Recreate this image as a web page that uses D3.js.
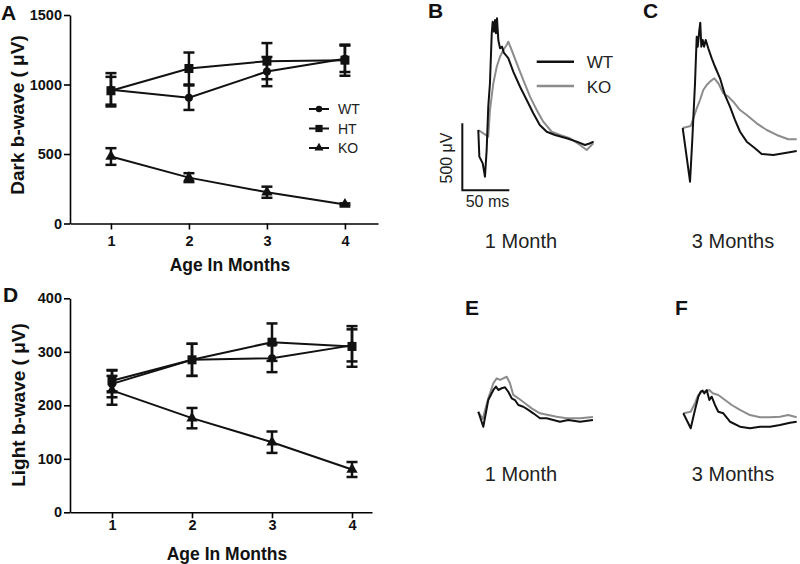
<!DOCTYPE html>
<html><head><meta charset="utf-8">
<script src="https://cdn.jsdelivr.net/npm/d3@7"></script>
<style>
body{margin:0;background:#fff;}
svg{display:block;font-family:"Liberation Sans",Arial,Helvetica,sans-serif;}
</style></head>
<body><svg id="chart" width="800" height="564"></svg>
<script>
// ---------- data ----------
const months = [1, 2, 3, 4];
const darkTicks = [0, 500, 1000, 1500];
const lightTicks = [0, 100, 200, 300, 400];
const seriesNames = ["WT", "HT", "KO"];

const darkWT = [962, 905, 1093, 1185];
const darkWTerr = [120, 88, 105, 95];
const darkHT = [955, 1115, 1168, 1175];
const darkHTerr = [100, 115, 130, 112];
const darkKO = [482, 330, 225, 137];
const darkKOerr = [60, 32, 40, 8];

const lightWT = [240, 285, 288, 312];
const lightWTerr = [25, 30, 26, 30];
const lightHT = [246, 285, 318, 310];
const lightHTerr = [20, 30, 35, 38];
const lightKO = [228, 176, 131, 80];
const lightKOerr = [27, 19, 20, 14];

// ERG traces: [time ms, amplitude µV]
const darkWT1m = [[0,0],[1.1,-199],[4.7,-249],[7.1,-348],[8.9,-149],[10.6,173],[12.4,349],[14.3,722],[15.3,808],[16.7,734],[17.8,821],[18.8,722],[19.9,834],[21.3,672],[23.1,610],[25.2,622],[27.3,575],[31.9,537],[37.2,435],[44.4,323],[51.5,224],[58.5,125],[65.4,37],[72.8,-13],[81.6,-37],[94.0,-62],[104.7,-87],[113.5,-112],[119.0,-99],[122.7,-87]];
const darkKO1m = [[0,0],[10.6,-50],[12.4,149],[16.0,349],[19.6,472],[23.1,547],[26.6,597],[30.2,634],[31.9,659],[35.5,597],[40.9,498],[47.9,373],[55.0,249],[62.1,149],[69.1,62],[78.1,-13],[86.9,-37],[97.5,-62],[108.2,-112],[115.3,-149],[122.3,-99]];
const darkWT3m = [[0,0],[7.8,-401],[10.2,-90],[13.1,334],[14.9,681],[16.0,607],[17.7,731],[18.7,786],[19.8,607],[21.3,657],[22.7,607],[24.5,657],[27.2,595],[30.9,520],[34.4,457],[39.7,371],[45.0,246],[50.3,159],[55.6,60],[61.0,-28],[68.1,-102],[76.9,-151],[84.0,-194],[96.4,-201],[110.6,-184],[121.3,-172]];
const darkKO3m = [[0,0],[8.5,15],[11.3,72],[14.9,147],[18.4,209],[21.9,284],[25.5,321],[29.0,346],[33.6,371],[37.9,334],[43.2,259],[48.5,234],[53.8,196],[61.0,134],[68.1,97],[78.7,35],[89.4,-15],[100.0,-52],[112.3,-84],[121.3,-84]];
const lightWT1m = [[0,0],[5.3,-112],[10.6,87],[16.0,162],[18.8,187],[21.3,162],[24.9,175],[28.4,182],[31.9,149],[35.5,100],[39.0,87],[42.6,50],[47.9,37],[53.2,13],[58.5,-12],[65.6,-49],[72.8,-49],[79.8,-62],[86.9,-75],[95.7,-62],[108.2,-75],[122,-62]];
const lightKO1m = [[0,0],[4.7,-54],[10.6,100],[16.0,212],[19.6,249],[23.1,237],[26.6,249],[30.2,261],[33.7,212],[37.2,125],[42.6,100],[49.7,63],[56.8,25],[65.6,-12],[74.5,-25],[83.4,-37],[94.0,-49],[108.2,-49],[122,-40]];
const lightWT3m = [[0,0],[7.9,-112],[12.4,25],[16.0,124],[18.5,161],[20.6,169],[22.3,149],[24.9,174],[27.7,99],[30.2,124],[33.7,62],[37.2,12],[42.6,0],[49.7,-63],[60.3,-100],[71.0,-112],[81.6,-100],[92.2,-100],[102.9,-87],[113.5,-70],[120.6,-63]];
const lightKO3m = [[0,0],[7.9,12],[12.4,75],[16.0,137],[19.6,161],[23.1,161],[27.7,174],[31.3,149],[37.2,137],[44.4,99],[51.5,62],[60.3,25],[71.0,-13],[81.6,-30],[92.2,-30],[102.9,-25],[111.7,-13],[120.6,-30]];

const scaleBarMs = [-17, 33];
const scaleBarUV = [-450, 50];

// ---------- drawing ----------
const svg = d3.select("#chart");
const FONT = "'Liberation Sans',Arial,Helvetica,sans-serif";

function lineChart(opts) {
  const g = svg.append("g");
  const x = d3.scaleLinear().domain(opts.xDomain).range(opts.xRange);
  const y = d3.scaleLinear().domain(opts.yDomain).range(opts.yRange);

  const xAxis = g.append("g").attr("transform", `translate(0,${opts.yRange[0]})`)
    .call(d3.axisBottom(x).tickValues(months).tickFormat(d3.format("d"))
      .tickSize(6).tickSizeOuter(0).tickPadding(opts.xPad));
  const yAxis = g.append("g").attr("transform", `translate(${opts.xRange[0]},0)`)
    .call(d3.axisLeft(y).tickValues(opts.yTicks).tickFormat(d3.format("d"))
      .tickSize(6).tickSizeOuter(0).tickPadding(2));
  [xAxis, yAxis].forEach(a => {
    a.select(".domain").attr("stroke", "#000").attr("stroke-width", 1.6);
    a.selectAll(".tick line").attr("stroke", "#000").attr("stroke-width", 1.6);
    a.selectAll(".tick text").attr("fill", "#111").attr("font-size", 14.5)
      .attr("font-weight", "bold").attr("font-family", FONT);
  });

  const sets = opts.series;
  const line = d3.line().x((d, i) => x(months[i])).y(d => y(d));
  sets.forEach(s => {
    g.append("path").datum(s.values).attr("d", line)
      .attr("fill", "none").attr("stroke", "#111").attr("stroke-width", 2);
  });
  sets.forEach(s => {
    s.values.forEach((v, i) => {
      const cx = x(months[i]);
      const e = s.err[i];
      const y1 = y(v + e), y2 = y(v - e);
      g.append("line").attr("x1", cx).attr("x2", cx).attr("y1", y1).attr("y2", y2)
        .attr("stroke", "#111").attr("stroke-width", 2.5);
      [y1, y2].forEach(yy => g.append("line").attr("x1", cx - 5.5).attr("x2", cx + 5.5)
        .attr("y1", yy).attr("y2", yy).attr("stroke", "#111").attr("stroke-width", 2.5));
      drawMarker(g, s.shape, cx, y(v), 1);
    });
  });

  g.append("text").attr("x", (x(1) + x(4)) / 2 + opts.titleDx).attr("y", opts.xTitleY)
    .attr("text-anchor", "middle").attr("font-size", 17.5).attr("font-weight", "bold")
    .attr("fill", "#111").text("Age In Months");
  g.append("text").attr("transform", `translate(${opts.yTitleX},${opts.yTitleY}) rotate(-90)`)
    .attr("text-anchor", "middle").attr("font-size", 19).attr("font-weight", "bold")
    .attr("fill", "#111").text(opts.yTitle);
  return {x, y, g};
}

function drawMarker(g, shape, cx, cy, k) {
  if (shape === "circle") {
    g.append("circle").attr("cx", cx).attr("cy", cy).attr("r", 4 * k).attr("fill", "#111");
  } else if (shape === "square") {
    g.append("rect").attr("x", cx - 4.5 * k).attr("y", cy - 4.5 * k)
      .attr("width", 9 * k).attr("height", 9 * k).attr("fill", "#111");
  } else {
    g.append("path").attr("d", d3.symbol(d3.symbolTriangle, 55 * k * k)())
      .attr("transform", `translate(${cx},${cy})`).attr("fill", "#111");
  }
}

// Panel A
lineChart({
  xDomain: [0.475, 4.424], xRange: [70, 378],
  yDomain: [0, 1500], yRange: [223.5, 15], yTicks: darkTicks, xPad: 6,
  series: [
    {values: darkWT, err: darkWTerr, shape: "circle"},
    {values: darkHT, err: darkHTerr, shape: "square"},
    {values: darkKO, err: darkKOerr, shape: "triangle"}
  ],
  xTitleY: 271, titleDx: 2, yTitleX: 24, yTitleY: 115, yTitle: "Dark b-wave ( \u03bcV)"
});

// Panel D
lineChart({
  xDomain: [0.475, 4.25], xRange: [70, 372],
  yDomain: [0, 400], yRange: [512.3, 298.3], yTicks: lightTicks, xPad: 1,
  series: [
    {values: lightWT, err: lightWTerr, shape: "circle"},
    {values: lightHT, err: lightHTerr, shape: "square"},
    {values: lightKO, err: lightKOerr, shape: "triangle"}
  ],
  xTitleY: 560, titleDx: -5, yTitleX: 25, yTitleY: 405, yTitle: "Light b-wave ( \u03bcV)"
});

// Legend A
const shapes = ["circle", "square", "triangle"];
const lg = svg.append("g");
seriesNames.forEach((n, i) => {
  const yy = 109 + i * 19.5;
  lg.append("line").attr("x1", 309).attr("x2", 329).attr("y1", yy).attr("y2", yy)
    .attr("stroke", "#111").attr("stroke-width", 2);
  drawMarker(lg, shapes[i], 319, yy, 0.8);
  lg.append("text").attr("x", 338).attr("y", yy + 5).attr("font-size", 14)
    .attr("fill", "#222").text(n);
});

// ERG traces
function tracePanel(x0, base, wt, ko) {
  const x = d3.scaleLinear().domain([0, 50]).range([x0, x0 + 47]);
  const y = d3.scaleLinear().domain([0, 500]).range([base, base - 67]);
  const line = d3.line().x(d => x(d[0])).y(d => y(d[1]));
  svg.append("path").datum(ko).attr("d", line).attr("fill", "none")
    .attr("stroke", "#8c8c8c").attr("stroke-width", 2).attr("stroke-linejoin", "round");
  svg.append("path").datum(wt).attr("d", line).attr("fill", "none")
    .attr("stroke", "#111").attr("stroke-width", 2).attr("stroke-linejoin", "round");
  return {x, y};
}
const B = tracePanel(478.3, 130, darkWT1m, darkKO1m);
tracePanel(682.7, 128, darkWT3m, darkKO3m);
tracePanel(478.3, 411.7, lightWT1m, lightKO1m);
tracePanel(683.3, 413.3, lightWT3m, lightKO3m);

// scale bar
svg.append("path")
  .attr("d", `M${B.x(scaleBarMs[0])},${B.y(scaleBarUV[1])}V${B.y(scaleBarUV[0])}H${B.x(scaleBarMs[1])}`)
  .attr("fill", "none").attr("stroke", "#111").attr("stroke-width", 2);
svg.append("text").attr("transform", `translate(451.5,158) rotate(-90)`).attr("text-anchor", "middle")
  .attr("font-size", 16).attr("fill", "#222").text("500 \u03bcV");
svg.append("text").attr("x", 487.5).attr("y", 206.5).attr("text-anchor", "middle")
  .attr("font-size", 16).attr("fill", "#222").text("50 ms");

// legend B
[["WT", "#111", 61.7], ["KO", "#8c8c8c", 86]].forEach(([n, c, yy]) => {
  svg.append("line").attr("x1", 536.7).attr("x2", 574).attr("y1", yy).attr("y2", yy)
    .attr("stroke", c).attr("stroke-width", 2.5);
  svg.append("text").attr("x", 586.7).attr("y", yy + 6.5).attr("font-size", 17)
    .attr("fill", "#222").text(n);
});

// month captions
[["1 Month", 521, 248], ["3 Months", 733, 248], ["1 Month", 521, 481], ["3 Months", 733, 481]]
  .forEach(([t, xx, yy]) => svg.append("text").attr("x", xx).attr("y", yy).attr("text-anchor", "middle")
    .attr("font-size", 20).attr("fill", "#222").text(t));

// panel letters
[["A", 1, 20], ["D", 3, 302], ["B", 428, 18], ["C", 643, 18], ["E", 465, 315], ["F", 675, 315]]
  .forEach(([t, xx, yy]) => svg.append("text").attr("x", xx).attr("y", yy).attr("font-size", 21)
    .attr("font-weight", "bold").attr("fill", "#111").text(t));
</script></body></html>
